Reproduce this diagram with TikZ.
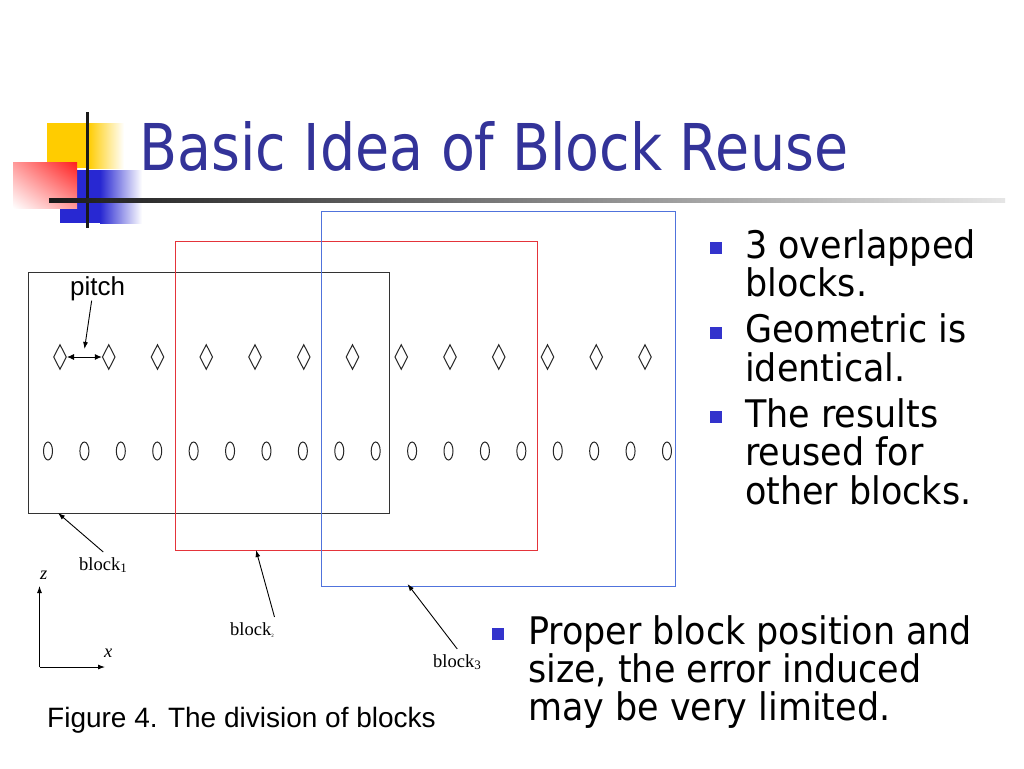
\documentclass[tikz,border=0pt]{standalone}
\usepackage{fontspec}
\setmainfont{Liberation Serif}
\newfontfamily\tahoma[FakeStretch=0.92]{DejaVu Sans}
\newfontfamily\tahomatitle[FakeStretch=0.86]{DejaVu Sans}
\newfontfamily\arial{Liberation Sans}
\usetikzlibrary{shapes.geometric,arrows.meta,shadings}
\definecolor{titleblue}{RGB}{51,51,153}
\definecolor{bulletblue}{RGB}{51,51,204}
\definecolor{blockred}{RGB}{228,52,58}
\definecolor{blockblue}{RGB}{80,115,220}
\definecolor{logoyellow}{RGB}{255,204,0}
\definecolor{logored}{RGB}{255,30,30}
\definecolor{logoblue}{RGB}{40,40,210}
\tikzset{
  dmd/.style={diamond,draw=black!85,line width=1pt,minimum width=13pt,minimum height=25pt,inner sep=0pt},
  zero/.style={ellipse,draw=black!85,line width=1pt,minimum width=9pt,minimum height=18pt,inner sep=0pt},
  bullet/.style={fill=bulletblue,minimum size=12pt,inner sep=0pt},
  bodytxt/.style={font=\tahoma\fontsize{38}{38}\selectfont,inner sep=0pt,anchor=base west},
  lbl/.style={font=\fontsize{18.5}{18.5}\selectfont,inner sep=0pt,anchor=base west},
  tip/.style={-{Latex[length=7pt,width=5pt]},line width=0.9pt},
  block/.style={draw,line width=0.9pt,inner sep=0pt},
}

\begin{document}
\begin{tikzpicture}[x=1pt,y=-1pt]
            \fill[white] (0,0) rectangle (1024,768);
            \useasboundingbox (0,0) rectangle (1024,768);
            % logo
            \fill[logoyellow] (47,123) rectangle (88,168);
            \shade[left color=logoyellow,right color=white] (88,123) rectangle (124,168);
            \fill[logoblue] (60,170) rectangle (100,223);
            \shade[left color=logoblue,right color=white] (100,170) rectangle (142,223);
            \shade[upper left=logored!45,upper right=logored,lower left=white,lower right=logored!45] (13,162) rectangle (77,208);
            \draw[line width=3pt,black!90] (87,112)--(87,228);
            \shade[left color=black!90,right color=black!10] (49,198.5) rectangle (1005,202.5);
            \node[font=\tahomatitle\fontsize{64.5}{64.5}\selectfont,text=titleblue,inner sep=0pt,anchor=base west] (title) at (139,170) {Basic Idea of Block Reuse};
            % blocks
            \node[block,draw=black!80,minimum width=361pt,minimum height=241pt] (blk1) at (208.5,392.5) {};
            \node[block,draw=blockred,minimum width=362pt,minimum height=309pt] (blk2) at (356,395.5) {};
            \node[block,draw=blockblue,minimum width=354pt,minimum height=375pt] (blk3) at (498,398.5) {};
            \foreach \i in {0,...,12} \node[dmd] (d\i) at ({60+48.75*\i},357) {};
            \foreach \i in {0,...,17} \node[zero] (z\i) at ({48+36.41*\i},451) {};
            % pitch
            \node[font=\arial\fontsize{26}{26}\selectfont,inner sep=0pt,anchor=base west] (pitch) at (70,295) {pitch};
            \coordinate (pt) at (84.5,349);
            \draw[tip] ([xshift=-6pt]pitch.south)--(pt);
            \draw[{Latex[length=7pt,width=6pt]}-{Latex[length=7pt,width=6pt]},line width=0.9pt] (d0.east)--(d1.west);
            % block labels
            \node[lbl] (l1) at (79,570) {block\textsubscript{1}};
            \node[lbl] (l2) at (230,635) {block\textsubscript{\fontsize{5}{5}\selectfont 2}};
            \node[lbl] (l3) at (433,667) {block\textsubscript{3}};
            \coordinate (e1) at (58,513);
            \coordinate (e2) at (256,550);
            \coordinate (e3) at (407.5,584);
            \draw[tip] ([yshift=5pt]l1.north)--(e1);
            \draw[tip] ([yshift=5pt]l2.north east)--(e2);
            \draw[tip] ([yshift=5pt]l3.north)--(e3);
            % axes
            \coordinate (o) at (39.5,667);
            \coordinate (zt) at (39.5,586);
            \coordinate (xt) at (105,667);
            \draw[tip] (o)--(zt);
            \draw[tip] (o)--(xt);
            \node[lbl] (zl) at (40,579) {\itshape z};
            \node[lbl] (xl) at (104,657) {\itshape x};
            % bullets
            \node[bullet] (b1) at (716,248) {};
            \node[bullet] (b2) at (716,333) {};
            \node[bullet] (b3) at (716,417) {};
            \node[bullet] (b4) at (498,634) {};
            \foreach \y/\t in {258/3 overlapped, 296.5/blocks., 342.5/Geometric is, 381/identical., 427/The results, 465.5/reused for, 504/other blocks.}
              \node[bodytxt] at (745,\y) {\t};
            \foreach \y/\t in {644/{Proper block position and}, 682/{size, the error induced}, 720/{may be very limited.}}
              \node[bodytxt] at (528,\y) {\t};
            \node[font=\arial\fontsize{28}{28}\selectfont,inner sep=0pt,anchor=base west] (cap) at (47,727) {Figure 4. The division of blocks};
\end{tikzpicture}
\end{document}
